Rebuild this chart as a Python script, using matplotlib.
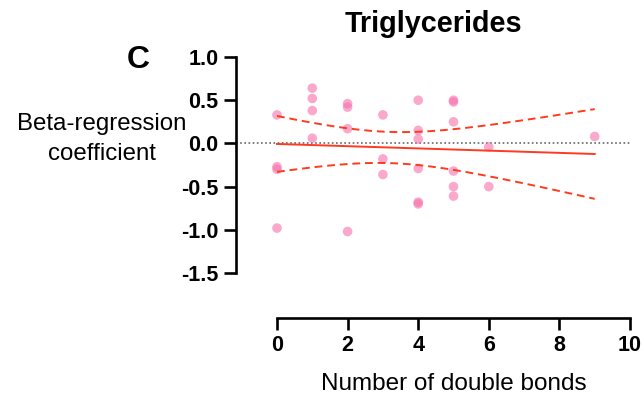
import numpy as np
import matplotlib
matplotlib.use("Agg")
import matplotlib.pyplot as plt
from matplotlib.lines import Line2D

plt.rcParams['font.family'] = ['Liberation Sans', 'DejaVu Sans']

# data: number of double bonds vs beta-regression coefficient
x_bonds = [0, 0, 0, 0,
           1, 1, 1, 1,
           2, 2, 2, 2,
           3, 3, 3,
           4, 4, 4, 4, 4, 4,
           5, 5, 5, 5, 5, 5,
           6, 6,
           9]
beta = [0.33, -0.27, -0.30, -0.98,
        0.64, 0.52, 0.38, 0.06,
        0.46, 0.42, 0.17, -1.02,
        0.33, -0.18, -0.36,
        0.50, 0.15, 0.05, -0.29, -0.68, -0.70,
        0.50, 0.48, 0.25, -0.32, -0.50, -0.61,
        -0.04, -0.50,
        0.08]
x_ticks = [0, 2, 4, 6, 8, 10]
y_ticks = [1.0, 0.5, 0.0, -0.5, -1.0, -1.5]
t_crit = 2.048  # 95% t, df = n-2

x = np.array(x_bonds, float)
y = np.array(beta, float)
n = len(x)
slope, intercept = np.polyfit(x, y, 1)
xf = np.linspace(x.min(), x.max(), 100)
yf = intercept + slope * xf
resid = y - (intercept + slope * x)
s = np.sqrt(np.sum(resid**2) / (n - 2))
sxx = np.sum((x - x.mean())**2)
half = t_crit * s * np.sqrt(1.0 / n + (xf - x.mean())**2 / sxx)

W, H = 644, 400
fig = plt.figure(figsize=(W/100, H/100), dpi=100)
ax = fig.add_axes([277/W, (H-273)/H, (630-277)/W, (273-57)/H])
ax.set_xlim(0, 10)
ax.set_ylim(-1.5, 1.0)

red = '#FF3A1E'
ax.scatter(x, y, s=48, color='#F771AC', alpha=0.6, edgecolors='none', clip_on=False, zorder=3)
ax.plot(xf, yf, color=red, lw=1.4, clip_on=False, zorder=4)
ax.plot(xf, yf + half, color=red, lw=1.4, ls=(0, (4, 2.5)), clip_on=False, zorder=4)
ax.plot(xf, yf - half, color=red, lw=1.4, ls=(0, (4, 2.5)), clip_on=False, zorder=4)

# dotted zero reference line from the y axis to the right end
left_off = (277 - 236) / (630 - 277)
ax.add_line(Line2D([-left_off, 1.0], [0, 0], transform=ax.get_yaxis_transform(),
                   color='#666666', lw=1.2, ls=(0, (1, 1.5)), clip_on=False, zorder=2))

for sp in ['top', 'right']:
    ax.spines[sp].set_visible(False)
ax.spines['left'].set_position(('outward', 41 * 0.72))
ax.spines['bottom'].set_position(('outward', 45 * 0.72))
ax.spines['left'].set_linewidth(1.9)
ax.spines['bottom'].set_linewidth(1.9)
ax.spines['left'].set_bounds(-1.5, 1.0)
ax.spines['bottom'].set_bounds(0, 10)

ax.set_xticks(x_ticks)
ax.set_xticklabels([str(t) for t in x_ticks])
ax.set_yticks(y_ticks)
ax.set_yticklabels([f"{t:.1f}" for t in y_ticks])
ax.tick_params(axis='both', width=1.9, length=8.5, labelsize=15.5)
ax.tick_params(axis='y', pad=4)
ax.tick_params(axis='x', pad=3.5)
for lab in ax.get_xticklabels() + ax.get_yticklabels():
    lab.set_fontweight('bold')

fig.text(454/W, 1 - 390/H, 'Number of double bonds', fontsize=17.5,
         ha='center', va='baseline')
fig.text(102/W, 1 - 139/H, 'Beta-regression\ncoefficient', fontsize=17.3,
         ha='center', va='center', linespacing=1.45, multialignment='center')
fig.text(433/W, 1 - 31.7/H, 'Triglycerides', fontsize=20.7, fontweight='bold',
         ha='center', va='baseline')
fig.text(138/W, 1 - 68.3/H, 'C', fontsize=23, fontweight='bold', ha='center', va='baseline')

fig.savefig('out.png', dpi=100)
